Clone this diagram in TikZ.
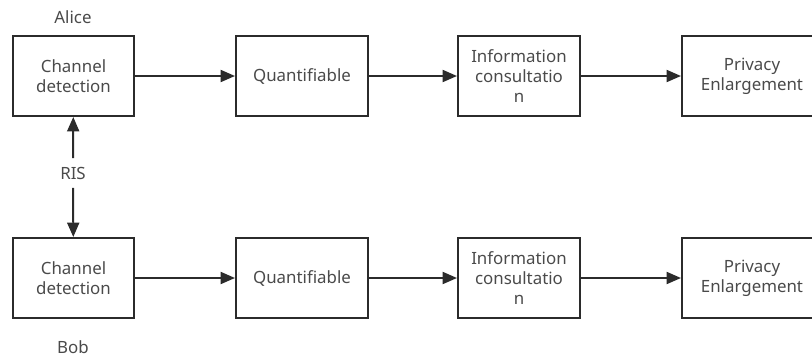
\documentclass[tikz,border=0pt]{standalone}
\usepackage{fontspec}
\setmainfont{Noto Sans}
\usetikzlibrary{arrows.meta}
\definecolor{boxline}{HTML}{2B2B2B}
\definecolor{boxtext}{HTML}{4A4A4A}

\begin{document}
\begin{tikzpicture}[x=0.025cm, y=0.025cm,
  stage/.style={draw=boxline, line width=1.4pt, minimum height=2cm, align=center,
    text=boxtext, font=\fontsize{12}{14.5}\selectfont, inner sep=0pt},
  tag/.style={text=boxtext, font=\fontsize{12}{14.5}\selectfont},
  flow/.style={draw=boxline, line width=1.4pt, -{Triangle[length=0.36cm, width=0.3cm]}}]
 \useasboundingbox (0,0) rectangle (812,358);

 % Alice
 \node[stage, minimum width=3.025cm] (A1) at (73.5,282) {Channel\\detection};
 \node[stage, minimum width=3.3cm] (A2) at (302,282) {Quantifiable};
 \node[stage, minimum width=3.05cm] (A3) at (519,282) {Information\\consultatio\\n};
 \node[stage, minimum width=3.5cm] (A4) at (752,282) {Privacy\\Enlargement};

 % Bob
 \node[stage, minimum width=3.025cm] (B1) at (73.5,80) {Channel\\detection};
 \node[stage, minimum width=3.3cm] (B2) at (302,80) {Quantifiable};
 \node[stage, minimum width=3.05cm] (B3) at (519,80) {Information\\consultatio\\n};
 \node[stage, minimum width=3.5cm] (B4) at (752,80) {Privacy\\Enlargement};

 \node[tag] (alice) at (73,341) {Alice};
 \node[tag] (bob) at (73,11) {Bob};
 \node[tag, inner sep=6pt] (ris) at (73,185) {RIS};

 \draw[flow] (A1) -- (A2);
 \draw[flow] (A2) -- (A3);
 \draw[flow] (A3) -- (A4);
 \draw[flow] (B1) -- (B2);
 \draw[flow] (B2) -- (B3);
 \draw[flow] (B3) -- (B4);
 \draw[flow] (ris) -- (A1);
 \draw[flow] (ris) -- (B1);
\end{tikzpicture}
\end{document}
